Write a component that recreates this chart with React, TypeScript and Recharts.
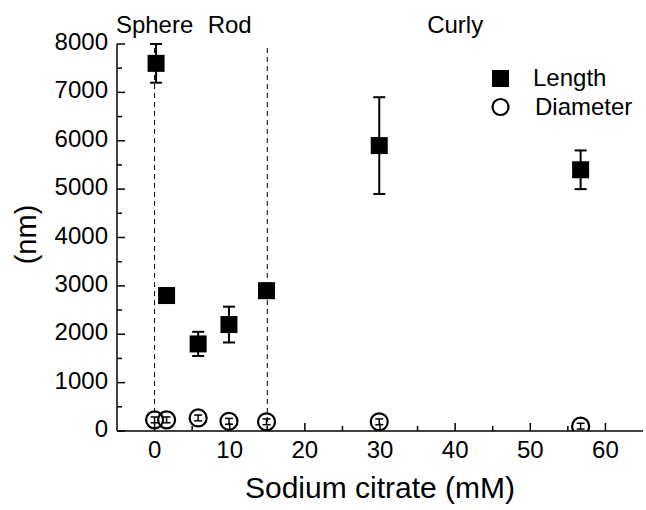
import { ScatterChart, Scatter, XAxis, YAxis, ErrorBar, ReferenceLine, Legend, Label } from "recharts";

const FONT = '"Liberation Sans", Arial, sans-serif';

// Length (filled squares)
const lengthX = [0.2, 1.6, 5.8, 9.9, 14.9, 29.9, 56.7];
const lengthY = [7600, 2800, 1800, 2200, 2900, 5900, 5400];
const lengthErr = [400, 150, 250, 370, 150, 1000, 400];

// Diameter (open circles)
const diameterX = [0, 1.6, 5.8, 9.9, 14.9, 29.9, 56.7];
const diameterY = [230, 230, 270, 200, 190, 190, 100];
const diameterErr = [60, 60, 60, 60, 60, 60, 60];

const xTicks = [0, 5, 10, 15, 20, 25, 30, 35, 40, 45, 50, 55, 60];
const yTicks = [0, 500, 1000, 1500, 2000, 2500, 3000, 3500, 4000, 4500, 5000, 5500, 6000, 6500, 7000, 7500, 8000];

const dividers = [0, 15];
const regionX = [0, 10, 40];
const regionNames = ["Sphere", "Rod", "Curly"];

const seriesNames = ["Length", "Diameter"];

const lengthData = lengthX.map((x, i) => ({ x, y: lengthY[i], err: lengthErr[i] }));
const diameterData = diameterX.map((x, i) => ({ x, y: diameterY[i], err: diameterErr[i] }));

const axisLine = { stroke: "#000", strokeWidth: 1.5 };

function BottomTick(props: any) {
  const { x, y, payload } = props;
  const major = payload.value % 10 === 0;
  return (
    <g>
      <line x1={x} x2={x} y1={y} y2={y - (major ? 8 : 5)} stroke="#000" strokeWidth={1.5} />
      {major && (
        <text x={x} y={y + 27} textAnchor="middle" fontSize={24} fontFamily={FONT} fill="#000">
          {payload.value}
        </text>
      )}
    </g>
  );
}

function TopTick(props: any) {
  const { x, y, payload } = props;
  const major = payload.value % 10 === 0;
  return <line x1={x} x2={x} y1={y} y2={y + (major ? 8 : 5)} stroke="#000" strokeWidth={1.5} />;
}

function LeftTick(props: any) {
  const { x, y, payload } = props;
  const major = payload.value % 1000 === 0;
  return (
    <g>
      <line x1={x} x2={x + (major ? 8 : 5)} y1={y} y2={y} stroke="#000" strokeWidth={1.5} />
      {major && (
        <text x={x - 9} y={y + 6} textAnchor="end" fontSize={24} fontFamily={FONT} fill="#000">
          {payload.value}
        </text>
      )}
    </g>
  );
}

function RightTick(props: any) {
  const { x, y, payload } = props;
  const major = payload.value % 1000 === 0;
  return <line x1={x} x2={x - (major ? 8 : 5)} y1={y} y2={y} stroke="#000" strokeWidth={1.5} />;
}

const SquareMark = (p: any) => <rect x={p.cx - 8.5} y={p.cy - 8.5} width={17} height={17} fill="#000" />;
const CircleMark = (p: any) => <circle cx={p.cx} cy={p.cy} r={8.5} fill="none" stroke="#000" strokeWidth={2.2} />;

function YTitle(props: any) {
  const vb = props.viewBox;
  const cx = vb.x + 26;
  const cy = vb.y + vb.height / 2 - 3;
  return (
    <text
      x={cx}
      y={cy}
      transform={`rotate(-90, ${cx}, ${cy})`}
      textAnchor="middle"
      dominantBaseline="central"
      fontSize={29}
      fontFamily={FONT}
      fill="#000"
    >
      (nm)
    </text>
  );
}

function LegendBox() {
  return (
    <svg width={150} height={70} style={{ display: "block", overflow: "visible" }}>
      <rect x={2} y={0} width={17} height={17} fill="#000" />
      <text x={43} y={16} fontSize={24} fontFamily={FONT} fill="#000">
        {seriesNames[0]}
      </text>
      <circle cx={10.5} cy={37} r={8} fill="none" stroke="#000" strokeWidth={2.2} />
      <text x={45} y={45} fontSize={24} fontFamily={FONT} fill="#000">
        {seriesNames[1]}
      </text>
    </svg>
  );
}

export default function App() {
  return (
    <div style={{ position: "absolute", left: 0, top: 0, width: 646, height: 510, background: "#fff" }}>
      <ScatterChart width={646} height={510} margin={{ top: 44, right: 3, bottom: 0, left: 0 }}>
        <XAxis
          dataKey="x"
          type="number"
          domain={[-5, 65]}
          ticks={xTicks}
          interval={0}
          allowDataOverflow
          height={79}
          tickSize={0}
          tickMargin={0}
          axisLine={axisLine}
          tickLine={false}
          tick={BottomTick}
        >
          <Label
            value="Sodium citrate (mM)"
            position="insideBottom"
            offset={12}
            fontSize={30}
            fontFamily={FONT}
            fill="#000"
          />
        </XAxis>
        <XAxis
          xAxisId="top"
          orientation="top"
          type="number"
          domain={[-5, 65]}
          ticks={xTicks}
          interval={0}
          allowDataOverflow
          height={0}
          tickSize={0}
          tickMargin={0}
          axisLine={axisLine}
          tickLine={false}
          tick={TopTick}
        />
        <YAxis
          dataKey="y"
          type="number"
          domain={[0, 8000]}
          ticks={yTicks}
          interval={0}
          allowDataOverflow
          width={117}
          tickSize={0}
          tickMargin={0}
          axisLine={axisLine}
          tickLine={false}
          tick={LeftTick}
        >
          <Label content={YTitle} />
        </YAxis>
        <YAxis
          yAxisId="right"
          orientation="right"
          type="number"
          domain={[0, 8000]}
          ticks={yTicks}
          interval={0}
          allowDataOverflow
          width={0}
          tickSize={0}
          tickMargin={0}
          axisLine={axisLine}
          tickLine={false}
          tick={RightTick}
        />
        {dividers.map((d) => (
          <ReferenceLine key={`div-${d}`} x={d} stroke="#000" strokeWidth={1} strokeDasharray="5 4" />
        ))}
        {regionX.map((rx, i) => (
          <ReferenceLine
            key={`reg-${rx}`}
            x={rx}
            stroke="none"
            label={{ value: regionNames[i], position: "top", offset: 11, fontSize: 24, fontFamily: FONT, fill: "#000" }}
          />
        ))}
        <Scatter name={seriesNames[1]} data={diameterData} shape={CircleMark} isAnimationActive={false}>
          <ErrorBar dataKey="err" direction="y" width={4} stroke="#000" strokeWidth={1.5} />
        </Scatter>
        <Scatter name={seriesNames[0]} data={lengthData} shape={SquareMark} isAnimationActive={false}>
          <ErrorBar dataKey="err" direction="y" width={6} stroke="#000" strokeWidth={2} />
        </Scatter>
        <Legend
          layout="vertical"
          align="center"
          verticalAlign="middle"
          wrapperStyle={{ left: 490, top: 70, width: 150, height: 70 }}
          content={LegendBox}
        />
      </ScatterChart>
    </div>
  );
}
